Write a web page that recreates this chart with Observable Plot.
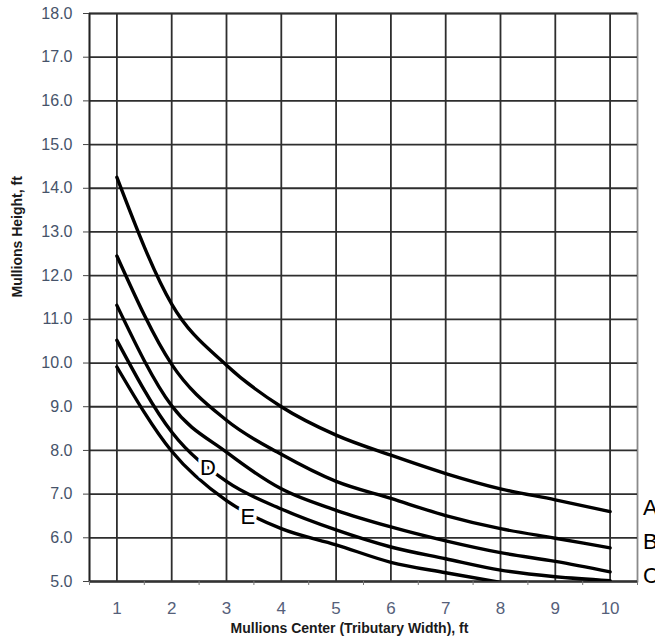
<!DOCTYPE html>
<html>
<head>
<meta charset="utf-8">
<script src="https://cdn.jsdelivr.net/npm/d3@7"></script>
<script src="https://cdn.jsdelivr.net/npm/@observablehq/plot@0.6"></script>
<style>
  html, body { margin: 0; padding: 0; background: #fff; overflow: hidden; }
  #chart { width: 655px; height: 644px; }
</style>
</head>
<body>
<div id="chart"></div>
<script>
// Data
const xValues = [1, 2, 3, 4, 5, 6, 7, 8, 9, 10];
const curveA = [14.25, 11.35, 9.95, 9.0, 8.35, 7.89, 7.47, 7.12, 6.87, 6.6];
const curveB = [12.45, 9.97, 8.69, 7.91, 7.29, 6.9, 6.51, 6.21, 5.99, 5.77];
const curveC = [11.32, 9.02, 7.96, 7.12, 6.63, 6.25, 5.93, 5.66, 5.46, 5.22];
const curveD = [10.52, 8.42, 7.29, 6.66, 6.18, 5.79, 5.52, 5.26, 5.11, 5.02];
const curveE = [9.91, 7.98, 6.85, 6.21, 5.84, 5.44, 5.2, 4.98];
const seriesNames = ["A", "B", "C", "D", "E"];
const xTicks = [1, 2, 3, 4, 5, 6, 7, 8, 9, 10];
const xMinorTicks = [0.5, 1.5, 2.5, 3.5, 4.5, 5.5, 6.5, 7.5, 8.5, 9.5, 10.5];
const yTicks = [5, 6, 7, 8, 9, 10, 11, 12, 13, 14, 15, 16, 17, 18];
const inlineLabels = [
  {name: "D", x: 2.66, y: 7.61},
  {name: "E", x: 3.39, y: 6.47}
];
const edgeLabels = [
  {name: "A", x: 10.6, y: 6.68},
  {name: "B", x: 10.6, y: 5.9},
  {name: "C", x: 10.6, y: 5.13}
];
const xTitle = "Mullions Center (Tributary Width), ft";
const yTitle = "Mullions Height, ft";

const allCurves = [curveA, curveB, curveC, curveD, curveE];
const rows = [];
allCurves.forEach((vals, i) => {
  vals.forEach((v, j) => rows.push({series: seriesNames[i], x: xValues[j], y: v}));
});

const font = "'Liberation Sans', Arial, Helvetica, sans-serif";

const chart = Plot.plot({
  width: 655,
  height: 644,
  marginLeft: 89,
  marginRight: 18,
  marginTop: 13,
  marginBottom: 63,
  style: {fontFamily: font, background: "#fff"},
  x: {domain: [0.5, 10.5]},
  y: {domain: [5, 18]},
  marks: [
    Plot.frame({stroke: "#8a8a8a", strokeWidth: 1.8}),
    Plot.gridX(xTicks, {stroke: "#2e2e2e", strokeOpacity: 1, strokeWidth: 1.8}),
    Plot.gridY(yTicks, {stroke: "#2e2e2e", strokeOpacity: 1, strokeWidth: 1.8}),
    Plot.ruleX([0.5], {stroke: "#222", strokeWidth: 1.8}),
    Plot.ruleY([5], {stroke: "#333", strokeWidth: 1.8}),
    Plot.axisY({ticks: yTicks, tickSize: 6, tickPadding: 11, tickFormat: d => d.toFixed(1),
      fontSize: 16, stroke: "#444", fill: "#46536a", label: null, style: {letterSpacing: "0.6px"}}),
    Plot.axisX({ticks: xMinorTicks, tickSize: 4, tickFormat: () => "", stroke: "#777", label: null}),
    Plot.axisX({ticks: xTicks, tickSize: 0, tickPadding: 20, fontSize: 17, fill: "#55607a", label: null}),
    Plot.line(rows, {x: "x", y: "y", z: "series", curve: "monotone-x",
      stroke: "#000", strokeWidth: 3.4, clip: true}),
    Plot.text(inlineLabels, {x: "x", y: "y", text: "name", fontSize: 22, fill: "#000",
      stroke: "#fff", strokeWidth: 7}),
    Plot.text(edgeLabels, {x: "x", y: "y", text: "name", fontSize: 22, fill: "#000",
      textAnchor: "start"}),
    Plot.text([yTitle], {text: d => d, frameAnchor: "left", rotate: -90, dx: -72,
      fontSize: 14, fontWeight: "bold", fill: "#1a1a1a"}),
    Plot.text([xTitle], {text: d => d, frameAnchor: "bottom", dy: 51, dx: -14,
      fontSize: 14, fontWeight: "bold", fill: "#1a1a1a"})
  ]
});
document.getElementById("chart").appendChild(chart);
</script>
</body>
</html>
